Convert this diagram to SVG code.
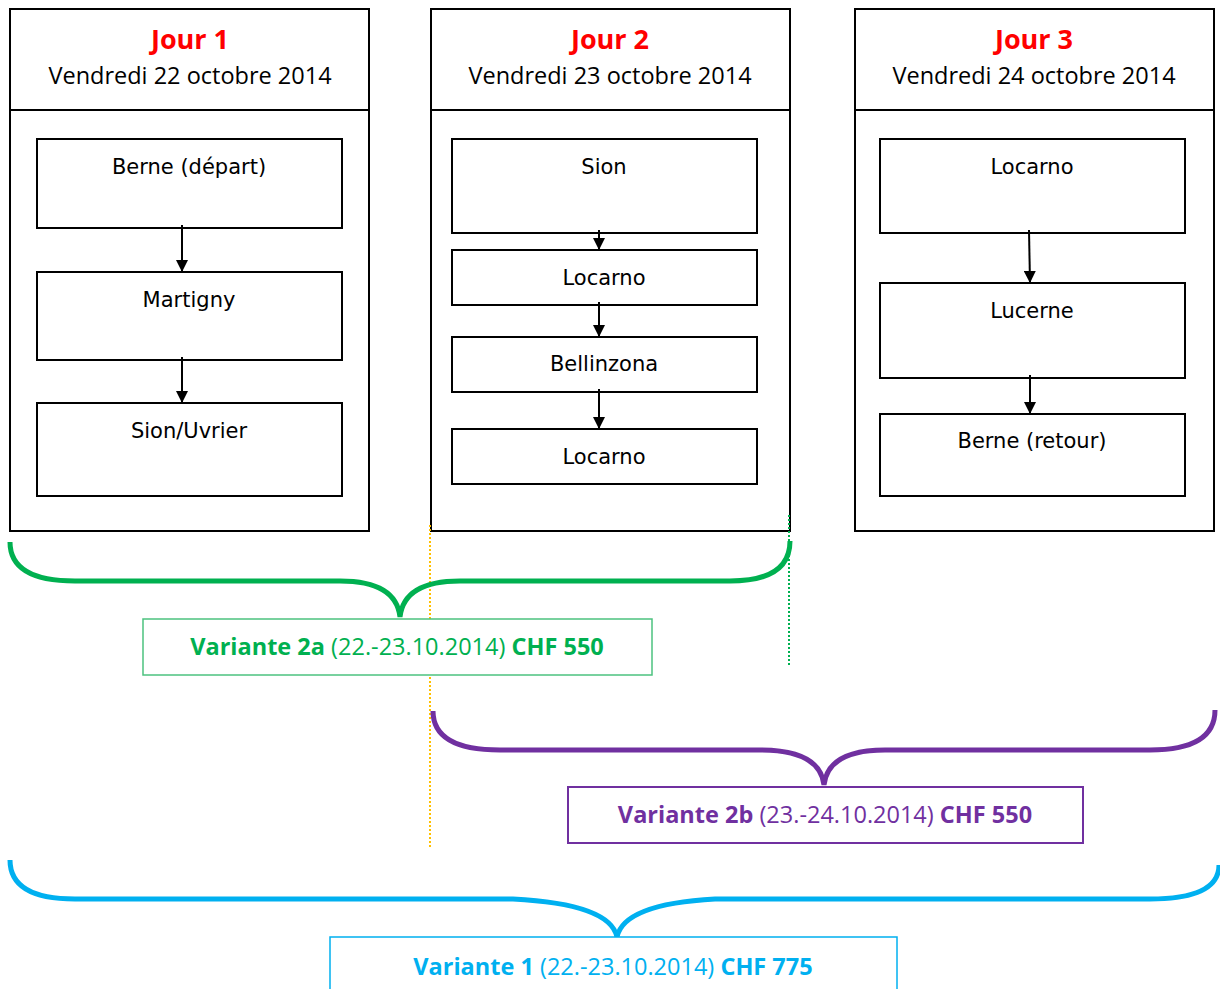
<svg xmlns="http://www.w3.org/2000/svg" width="1220" height="989" viewBox="0 0 1220 989">
<style>
.col{fill:#fff;stroke:#000;stroke-width:2}
.box{fill:#fff;stroke:#000;stroke-width:2}
.jour{font-family:"Open Sans","Liberation Sans",sans-serif;font-weight:bold;font-size:27px;fill:#ff0000;text-anchor:middle}
.date{font-family:"Open Sans","Liberation Sans",sans-serif;font-size:23.5px;fill:#000;text-anchor:middle}
.lbl{font-family:"DejaVu Sans",sans-serif;font-size:21px;fill:#000;text-anchor:middle}
.arr{stroke:#000;stroke-width:2;fill:none;marker-end:url(#ah)}
.brace{fill:none;stroke-width:5}
.var{font-family:"Open Sans","Liberation Sans",sans-serif;font-size:23.5px;text-anchor:middle}
.b{font-weight:bold}
</style>
<defs>
<marker id="ah" viewBox="0 0 10 10" refX="10" refY="5" markerWidth="14" markerHeight="12" orient="auto" markerUnits="userSpaceOnUse" >
<path d="M0,0 L10,5 L0,10 z" fill="#000"/>
</marker>
</defs>
<g id="jour1">
<rect class="col" x="10" y="9" width="359" height="522"/>
<line x1="10" y1="110" x2="369" y2="110" stroke="#000" stroke-width="2"/>
<text class="jour" x="190" y="49">Jour 1</text>
<text class="date" x="190" y="84">Vendredi 22 octobre 2014</text>
</g>
<g id="jour2">
<rect class="col" x="431" y="9" width="359" height="522"/>
<line x1="431" y1="110" x2="790" y2="110" stroke="#000" stroke-width="2"/>
<text class="jour" x="610" y="49">Jour 2</text>
<text class="date" x="610" y="84">Vendredi 23 octobre 2014</text>
</g>
<g id="jour3">
<rect class="col" x="855" y="9" width="359" height="522"/>
<line x1="855" y1="110" x2="1214" y2="110" stroke="#000" stroke-width="2"/>
<text class="jour" x="1034" y="49">Jour 3</text>
<text class="date" x="1034" y="84">Vendredi 24 octobre 2014</text>
</g>
<g id="berne-depart"><rect class="box" x="37" y="139" width="305" height="89"/><text class="lbl" x="189" y="174">Berne (départ)</text></g>
<g id="martigny"><rect class="box" x="37" y="272" width="305" height="88"/><text class="lbl" x="189" y="307">Martigny</text></g>
<g id="sion-uvrier"><rect class="box" x="37" y="403" width="305" height="93"/><text class="lbl" x="189" y="438">Sion/Uvrier</text></g>
<g id="sion"><rect class="box" x="452" y="139" width="305" height="94"/><text class="lbl" x="604" y="174">Sion</text></g>
<g id="locarno-a"><rect class="box" x="452" y="250" width="305" height="55"/><text class="lbl" x="604" y="285">Locarno</text></g>
<g id="bellinzona"><rect class="box" x="452" y="337" width="305" height="55"/><text class="lbl" x="604" y="371">Bellinzona</text></g>
<g id="locarno-b"><rect class="box" x="452" y="429" width="305" height="55"/><text class="lbl" x="604" y="464">Locarno</text></g>
<g id="locarno-c"><rect class="box" x="880" y="139" width="305" height="94"/><text class="lbl" x="1032" y="174">Locarno</text></g>
<g id="lucerne"><rect class="box" x="880" y="283" width="305" height="95"/><text class="lbl" x="1032" y="318">Lucerne</text></g>
<g id="berne-retour"><rect class="box" x="880" y="414" width="305" height="82"/><text class="lbl" x="1032" y="448">Berne (retour)</text></g>
<g id="connectors">
<line class="arr" x1="182" y1="225" x2="182" y2="272"/>
<line class="arr" x1="182" y1="357" x2="182" y2="403"/>
<line class="arr" x1="599" y1="230" x2="599" y2="250"/>
<line class="arr" x1="599" y1="302" x2="599" y2="337"/>
<line class="arr" x1="599" y1="389" x2="599" y2="429"/>
<line class="arr" x1="1029" y1="230" x2="1030" y2="283"/>
<line class="arr" x1="1030" y1="375" x2="1030" y2="414"/>
</g>
<g id="guides">
<line x1="430" y1="525" x2="430" y2="848" stroke="#ffc000" stroke-width="2" stroke-dasharray="2,2"/>
<line x1="789" y1="515" x2="789" y2="667" stroke="#00b050" stroke-width="2" stroke-dasharray="2,2"/>
</g>
<g id="variante-2a">
<path class="brace" stroke="#00b050" d="M10,542 Q10,581 75,581 L340,581 Q396,581 400,617 Q404,581 460,581 L730,581 Q790,581 790,541"/>
<rect x="143" y="619" width="509" height="56" fill="#fff" stroke="#4cc27f" stroke-width="1.5"/>
<text class="var" x="397" y="655" fill="#00b050"><tspan class="b">Variante 2a</tspan> (22.-23.10.2014) <tspan class="b">CHF 550</tspan></text>
</g>
<g id="variante-2b">
<path class="brace" stroke="#7030a0" d="M433,711 Q433,750 500,750 L760,750 Q820,750 824,785 Q828,750 885,750 L1150,750 Q1215,750 1215,710"/>
<rect x="568" y="787" width="515" height="56" fill="#fff" stroke="#7030a0" stroke-width="2"/>
<text class="var" x="825" y="823" fill="#7030a0"><tspan class="b">Variante 2b</tspan> (23.-24.10.2014) <tspan class="b">CHF 550</tspan></text>
</g>
<g id="variante-1">
<path class="brace" stroke="#00b0f0" d="M10,860 Q10,899 75,899 L513,899 Q610,904 617,937 Q624,904 715,899 L1150,899 Q1219,899 1219,865"/>
<rect x="330" y="937" width="567" height="60" fill="#fff" stroke="#00b0f0" stroke-width="1.5"/>
<text class="var" x="613" y="975" fill="#00b0f0"><tspan class="b">Variante 1</tspan> (22.-23.10.2014) <tspan class="b">CHF 775</tspan></text>
</g>
</svg>
